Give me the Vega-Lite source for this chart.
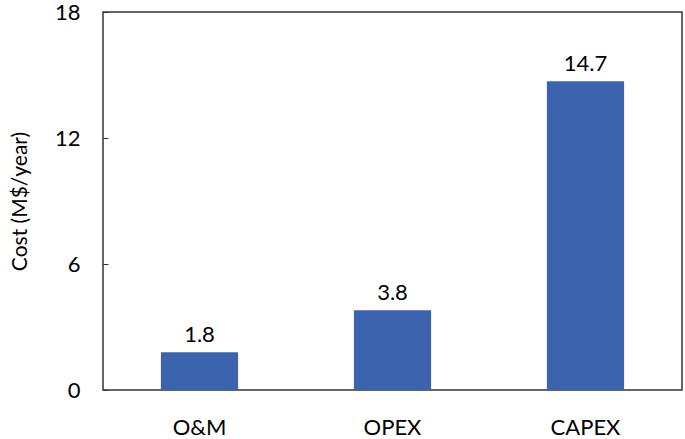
{
  "$schema": "https://vega.github.io/schema/vega-lite/v6.json",
  "autosize": "none",
  "padding": {"left": 103, "top": 12, "right": 3, "bottom": 49},
  "width": 579,
  "height": 378,
  "background": "white",
  "config": {
    "font": "Lato",
    "view": {"stroke": "#333333", "strokeWidth": 1.5},
    "axis": {"grid": false, "labelFont": "Lato", "titleFont": "Lato", "labelColor": "#000000", "titleColor": "#000000"}
  },
  "data": {
    "values": [
      {"category": "O&M", "cost": 1.8, "label": "1.8"},
      {"category": "OPEX", "cost": 3.8, "label": "3.8"},
      {"category": "CAPEX", "cost": 14.7, "label": "14.7"}
    ]
  },
  "encoding": {
    "x": {
      "field": "category",
      "type": "nominal",
      "sort": null,
      "scale": {"paddingInner": 0.6, "paddingOuter": 0.3},
      "axis": {"title": null, "labelAngle": 0, "labelFontSize": 22, "labelPadding": 27, "ticks": false, "domain": false}
    },
    "y": {
      "field": "cost",
      "type": "quantitative",
      "scale": {"domain": [0, 18], "nice": false},
      "axis": {"title": "Cost (M$/year)", "values": [0, 6, 12, 18], "labelFontSize": 22, "titleFontSize": 21, "titleFontWeight": "normal", "labelPadding": 28, "tickSize": -5, "tickColor": "#333333", "domain": false, "titlePadding": 24}
    }
  },
  "layer": [
    {"mark": {"type": "bar", "color": "#3C63AD"}},
    {"mark": {"type": "text", "baseline": "bottom", "dy": -5, "fontSize": 22, "color": "#000000"}, "encoding": {"text": {"field": "label"}}}
  ]
}
